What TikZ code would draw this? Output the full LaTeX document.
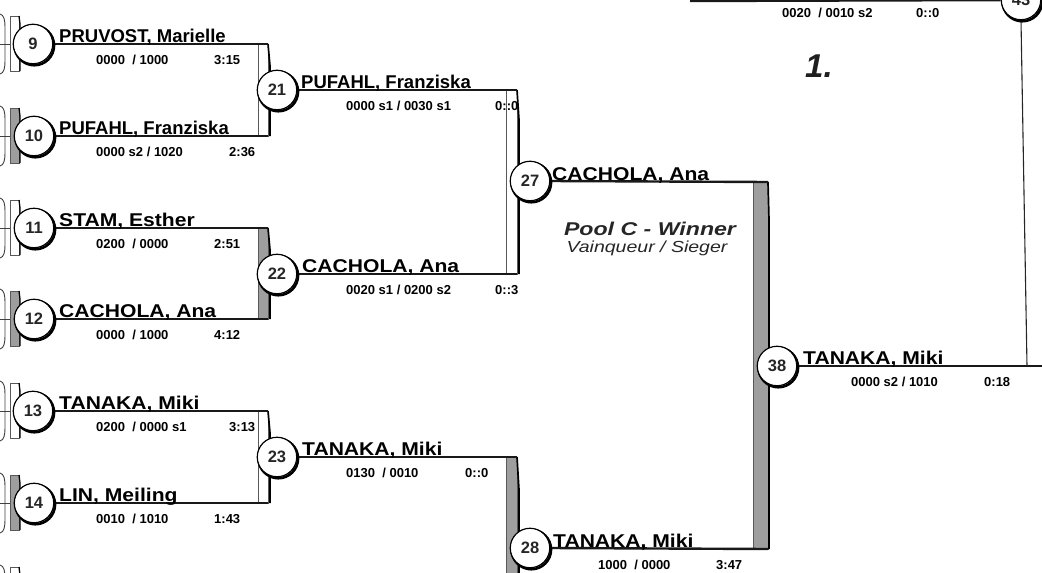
\documentclass[tikz,border=0pt]{standalone}
\usepackage{fontspec}
\setmainfont{Liberation Sans}
\usepackage{graphicx}
\pgfdeclarelayer{bg}
\pgfsetlayers{bg,main}
\newcommand{\wide}[1]{\scalebox{1.14}[1]{#1}}
\begin{document}
\begin{tikzpicture}[x=1pt,y=-1pt,
  pline/.style={line width=2.4pt, draw=black!90},
  thinline/.style={line width=1.1pt, draw=black!85},
  rnd/.style={circle, draw=black, line width=1.2pt, fill=white, minimum size=39.5pt, inner sep=0pt,
    font=\fontsize{16.5}{16.5}\selectfont\bfseries, text=black!85,
    preaction={draw=black, line width=2.6pt, transform canvas={shift={(1.3pt,-1.5pt)}}}},
  pname/.style={anchor=base west, font=\fontsize{18.5}{18.5}\selectfont\bfseries, inner sep=0pt},
  score/.style={anchor=base west, font=\fontsize{13}{13}\selectfont\bfseries, inner sep=0pt},
  barw/.style={draw=black!65, line width=0.6pt, fill=white},
  barg/.style={draw=black!65, line width=0.6pt, fill=black!38},
  baredge/.style={line width=1.7pt, draw=black},
  edgearc/.style={line width=0.9pt, draw=black!75},
  pooltxt/.style={font=\fontsize{18.5}{18.5}\selectfont\bfseries\itshape, text=black!85, inner sep=0pt, anchor=base},
  pooltxt2/.style={font=\fontsize{16}{16}\selectfont\itshape, text=black!85, inner sep=0pt, anchor=base},
  rank/.style={font=\fontsize{33}{33}\selectfont\bfseries\itshape, text=black!88, inner sep=0pt, anchor=base west}
]
\useasboundingbox (0,0) rectangle (1042,573);

% ---------- round 1 circles ----------
\node[rnd] (m9)  at (33,44)  {9};
\node[rnd] (m10) at (34,136) {10};
\node[rnd] (m11) at (34,228) {11};
\node[rnd] (m12) at (34,319) {12};
\node[rnd] (m13) at (33,411) {13};
\node[rnd] (m14) at (34,503) {14};
\node[rnd] (m15) at (34,595) {};

% ---------- later circles ----------
\node[rnd] (m21) at (277,90)  {21};
\node[rnd] (m22) at (277,274) {22};
\node[rnd] (m23) at (277,457) {23};
\node[rnd] (m27) at (530,181) {27};
\node[rnd] (m28) at (530,548) {28};
\node[rnd] (m38) at (777,366) {38};
\node[rnd] (m43) at (1021,0)  {43};

% ---------- coordinates of line ends ----------
\coordinate (e9)  at (268,44);
\coordinate (e10) at (268,136);
\coordinate (e11) at (268,228);
\coordinate (e12) at (268,319);
\coordinate (e13) at (268,411);
\coordinate (e14) at (268,503);
\coordinate (e21) at (517,90);
\coordinate (e22) at (517,274);
\coordinate (e23) at (517,457);
\coordinate (e27) at (768,182);
\coordinate (e28) at (768,549);
\coordinate (e38) at (1042,366);
\coordinate (e38v) at (1027,366);
\coordinate (top0) at (690,1);

\begin{pgfonlayer}{bg}
  % left edge remnants of previous round
  \foreach \c/\f in {44/barw,136/barg,228/barw,319/barg,411/barw,503/barg,595/barw}{
    \draw[edgearc] (0,\c-30) .. controls (4,\c-29) and (5,\c-24) .. (5,\c-17) -- (5,\c+17)
       .. controls (5,\c+24) and (4,\c+29) .. (0,\c+30);
    \draw[edgearc] (0,\c) -- (10,\c);
    \draw[\f] (10,\c-28) rectangle (19,\c+27);
    \draw[line width=1.3pt] (19,\c-28) -- (20,\c-20) -- (20,\c+27);
  }
  % bars
  \draw[barw] (258,44) rectangle (268,136);
  \draw[barg] (258,228) rectangle (268,319);
  \draw[barw] (258,411) rectangle (268,503);
  \draw[barw] (506,90) rectangle (517,274);
  \draw[barg] (506,457) rectangle (517,600);
  \draw[barg] (753,182) rectangle (768,549);
  \draw[baredge] (268,44) -- (270,66) -- (270,136);
  \draw[baredge] (268,228) -- (270,250) -- (270,319);
  \draw[baredge] (268,411) -- (270,433) -- (270,503);
  \draw[baredge] (517,90) -- (519,120) -- (519,274);
  \draw[baredge] (517,457) -- (519,490) -- (519,600);
  \draw[baredge] (768,182) -- (769,220) -- (769,549);
  % player lines
  \draw[pline] (m9.east)  -- (e9);
  \draw[pline] (m10.east) -- (e10);
  \draw[pline] (m11.east) -- (e11);
  \draw[pline] (m12.east) -- (e12);
  \draw[pline] (m13.east) -- (e13);
  \draw[pline] (m14.east) -- (e14);
  \draw[pline] (m21.east) -- (e21);
  \draw[pline] (m22.east) -- (e22);
  \draw[pline] (m23.east) -- (e23);
  \draw[pline] (m27.east) -- (e27);
  \draw[pline] (m28.east) -- (e28);
  \draw[pline] (m38.east) -- (e38);
  \draw[pline] (top0) -- (m43);
  \draw[thinline] (m43.south) -- (e38v);
\end{pgfonlayer}

% ---------- names ----------
\node[pname] (n9)  at (59,42)  {PRUVOST, Marielle};
\node[pname] (n10) at (59,134) {PUFAHL, Franziska};
\node[pname] (n11) at (59,226) {\wide{STAM, Esther}};
\node[pname] (n12) at (59,317) {\wide{CACHOLA, Ana}};
\node[pname] (n13) at (59,409) {\wide{TANAKA, Miki}};
\node[pname] (n14) at (59,501) {\wide{LIN, Meiling}};
\node[pname] (n21) at (301,88)  {PUFAHL, Franziska};
\node[pname] (n22) at (302,272) {\wide{CACHOLA, Ana}};
\node[pname] (n23) at (302,455) {\wide{TANAKA, Miki}};
\node[pname] (n27) at (552,180) {\wide{CACHOLA, Ana}};
\node[pname] (n28) at (553,547) {\wide{TANAKA, Miki}};
\node[pname] (n38) at (803,364) {\wide{TANAKA, Miki}};

% ---------- scores ----------
\node[score] (s9)  at (96,64)  {0000\ \ / 1000};
\node[score] (t9)  at (214,64) {3:15};
\node[score] (s10) at (96,156) {0000 s2 / 1020};
\node[score] (t10) at (229,156) {2:36};
\node[score] (s11) at (96,248) {0200\ \ / 0000};
\node[score] (t11) at (214,248) {2:51};
\node[score] (s12) at (96,339) {0000\ \ / 1000};
\node[score] (t12) at (214,339) {4:12};
\node[score] (s13) at (96,431) {0200\ \ / 0000 s1};
\node[score] (t13) at (229,431) {3:13};
\node[score] (s14) at (96,523) {0010\ \ / 1010};
\node[score] (t14) at (214,523) {1:43};
\node[score] (s21) at (346,110) {0000 s1 / 0030 s1};
\node[score] (t21) at (495,110) {0::0};
\node[score] (s22) at (346,294) {0020 s1 / 0200 s2};
\node[score] (t22) at (495,294) {0::3};
\node[score] (s23) at (346,477) {0130\ \ / 0010};
\node[score] (t23) at (465,477) {0::0};
\node[score] (s28) at (598,569) {1000\ \ / 0000};
\node[score] (t28) at (716,569) {3:47};
\node[score] (s38) at (851,386) {0000 s2 / 1010};
\node[score] (t38) at (984,386) {0:18};
\node[score] (s37) at (782,17) {0020\ \ / 0010 s2};
\node[score] (t37) at (916,17) {0::0};

% ---------- captions ----------
\node[pooltxt] (pool1) at (650,235) {\scalebox{1.25}[1]{Pool C - Winner}};
\node[pooltxt2] (pool2) at (647,252) {\scalebox{1.22}[1]{Vainqueur / Sieger}};
\node[rank] (rank) at (805,77) {1.};
\end{tikzpicture}
\end{document}
